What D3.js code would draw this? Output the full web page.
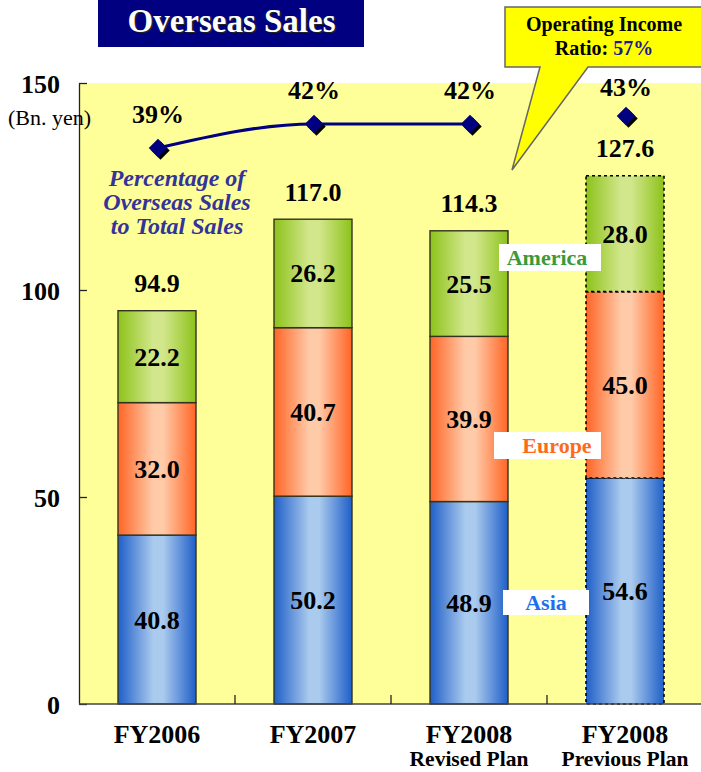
<!DOCTYPE html>
<html>
<head>
<meta charset="utf-8">
<script src="https://cdn.jsdelivr.net/npm/d3@7/dist/d3.min.js"></script>
<style>
  html, body { margin: 0; padding: 0; background: #ffffff; }
  svg { display: block; }
  text { font-family: "Liberation Serif", "Times New Roman", serif; }
</style>
</head>
<body>
<svg id="chart" width="701" height="772"></svg>
<script>
// ---- data ----
const categories = ["FY2006", "FY2007", "FY2008", "FY2008"];
const subLabels = ["", "", "Revised Plan", "Previous Plan"];
const regions = ["Asia", "Europe", "America"];
const asia = [40.8, 50.2, 48.9, 54.6];
const europe = [32.0, 40.7, 39.9, 45.0];
const america = [22.2, 26.2, 25.5, 28.0];
const totals = [94.9, 117.0, 114.3, 127.6];
const overseasPct = [39, 42, 42, 43];
const yTicks = [0, 50, 100, 150];
const planFlag = [false, false, false, true]; // previous plan drawn dashed
const operatingIncomeRatio = "57%";

// ---- layout ----
const svg = d3.select("#chart");
const margin = { left: 79, top: 83, right: 701, bottom: 704 };

const x = d3.scaleBand()
  .domain(d3.range(categories.length))
  .range([margin.left, margin.right + 2])
  .paddingInner(0.5)
  .paddingOuter(0.25);

const y = d3.scaleLinear().domain([0, 150]).range([margin.bottom, margin.top]);
// secondary scale for the overseas share line
const yPct = d3.scaleLinear().domain([30, 50]).range([220, 60]);

// ---- gradients ----
const defs = svg.append("defs");
const palettes = {
  Asia:    { edge: "#1f5fc8", mid: "#aacaee" },
  Europe:  { edge: "#ff6526", mid: "#ffcaa8" },
  America: { edge: "#8dc21a", mid: "#d2e78c" }
};
regions.forEach(r => {
  const g = defs.append("linearGradient").attr("id", "grad-" + r)
    .attr("x1", "0%").attr("x2", "100%").attr("y1", "0%").attr("y2", "0%");
  g.append("stop").attr("offset", "0%").attr("stop-color", palettes[r].edge);
  g.append("stop").attr("offset", "45%").attr("stop-color", palettes[r].mid);
  g.append("stop").attr("offset", "58%").attr("stop-color", palettes[r].mid);
  g.append("stop").attr("offset", "100%").attr("stop-color", palettes[r].edge);
});

// ---- plot background ----
svg.append("rect")
  .attr("x", margin.left).attr("y", margin.top)
  .attr("width", 701 - margin.left).attr("height", margin.bottom - margin.top)
  .attr("fill", "#ffff99");

// ---- stacked bars ----
const table = categories.map((c, i) => ({ idx: i, Asia: asia[i], Europe: europe[i], America: america[i] }));
const stack = d3.stack().keys(regions)(table);

const layers = svg.append("g").selectAll("g").data(stack).join("g");
layers.selectAll("rect")
  .data(d => d.map(p => ({ key: d.key, p })))
  .join("rect")
  .attr("x", d => x(d.p.data.idx))
  .attr("width", x.bandwidth())
  .attr("y", d => y(d.p[1]))
  .attr("height", d => y(d.p[0]) - y(d.p[1]))
  .attr("fill", d => `url(#grad-${d.key})`)
  .attr("stroke", d => planFlag[d.p.data.idx] ? "#000" : "#33331f")
  .attr("stroke-width", d => planFlag[d.p.data.idx] ? 1.6 : 1.4)
  .attr("stroke-dasharray", d => planFlag[d.p.data.idx] ? "3,3" : null);

// segment value labels
layers.selectAll("text")
  .data(d => d.map(p => ({ key: d.key, p })))
  .join("text")
  .attr("x", d => x(d.p.data.idx) + x.bandwidth() / 2)
  .attr("y", d => (y(d.p[0]) + y(d.p[1])) / 2 + 9)
  .attr("text-anchor", "middle")
  .attr("font-size", 26).attr("font-weight", "bold").attr("fill", "#000")
  .text(d => d.p.data[d.key].toFixed(1));

// totals
svg.append("g").selectAll("text").data(totals).join("text")
  .attr("x", (d, i) => x(i) + x.bandwidth() / 2)
  .attr("y", d => y(d) - 19)
  .attr("text-anchor", "middle")
  .attr("font-size", 26).attr("font-weight", "bold").attr("fill", "#000")
  .text(d => d.toFixed(1));

// ---- axes ----
const yAxis = d3.axisLeft(y).tickValues(yTicks).tickSizeInner(-8).tickSizeOuter(0).tickPadding(19);
const gy = svg.append("g").attr("transform", `translate(${margin.left},0)`).call(yAxis);
gy.select(".domain").attr("stroke", "#222").attr("stroke-width", 1.3);
gy.selectAll(".tick line").attr("stroke", "#222").attr("stroke-width", 1.3);
gy.selectAll(".tick text")
  .attr("font-family", "Liberation Serif, Times New Roman, serif")
  .attr("font-size", 26).attr("font-weight", "bold").attr("fill", "#000")
  .attr("dy", "0.35em");

// category axis baseline with upward ticks at band boundaries
const gx = svg.append("g");
gx.append("line")
  .attr("x1", margin.left).attr("x2", 701)
  .attr("y1", y(0)).attr("y2", y(0))
  .attr("stroke", "#444").attr("stroke-width", 1.5);
const boundaries = d3.range(1, categories.length).map(i => x(i) - x.step() * x.paddingInner() / 2);
gx.selectAll("line.tk").data(boundaries).join("line").attr("class", "tk")
  .attr("x1", d => d).attr("x2", d => d)
  .attr("y1", y(0)).attr("y2", y(0) - 9)
  .attr("stroke", "#222").attr("stroke-width", 1.3);

gx.selectAll("text.cat").data(categories).join("text").attr("class", "cat")
  .attr("x", (d, i) => x(i) + x.bandwidth() / 2)
  .attr("y", 743)
  .attr("text-anchor", "middle")
  .attr("font-size", 26).attr("font-weight", "bold").attr("fill", "#000")
  .text(d => d);
gx.selectAll("text.sub").data(subLabels).join("text").attr("class", "sub")
  .attr("x", (d, i) => x(i) + x.bandwidth() / 2)
  .attr("y", 766)
  .attr("text-anchor", "middle")
  .attr("font-size", 21.5).attr("font-weight", "bold").attr("fill", "#000")
  .text(d => d);

// unit label
svg.append("text")
  .attr("x", 8).attr("y", 125)
  .attr("font-size", 22).attr("fill", "#000")
  .text("(Bn. yen)");

// ---- overseas share line ----
const pts = overseasPct.map((p, i) => [x(i) + x.bandwidth() / 2 + 1, yPct(p)]);
svg.append("path")
  .datum(pts.slice(0, 3))
  .attr("d", d3.line().curve(d3.curveMonotoneX))
  .attr("fill", "none")
  .attr("stroke", "#000080")
  .attr("stroke-width", 3);

const diamond = d3.symbol().type(d3.symbolSquare).size(170);
const dg = svg.append("g").selectAll("g").data(pts).join("g")
  .attr("transform", d => `translate(${d[0]},${d[1]})`);
dg.append("path").attr("d", diamond())
  .attr("transform", "translate(2.5,2.5) rotate(45)").attr("fill", "#000");
dg.append("path").attr("d", diamond())
  .attr("transform", "rotate(45)").attr("fill", "#000080");

svg.append("g").selectAll("text").data(overseasPct).join("text")
  .attr("x", (d, i) => pts[i][0])
  .attr("y", (d, i) => pts[i][1] - (i === 3 ? 20 : 25))
  .attr("text-anchor", "middle")
  .attr("font-size", 26).attr("font-weight", "bold").attr("fill", "#000")
  .text(d => d + "%");

// series caption
const caption = svg.append("text")
  .attr("text-anchor", "middle")
  .attr("font-size", 24).attr("font-weight", "bold").attr("font-style", "italic")
  .attr("fill", "#333399");
["Percentage of", "Overseas Sales", "to Total Sales"].forEach((t, i) => {
  caption.append("tspan").attr("x", 177).attr("y", 186 + i * 24).text(t);
});

// ---- region legend tags ----
const legendColors = { America: "#3a9a3a", Europe: "#ff6a1a", Asia: "#1e6ff0" };
const legendBoxes = [
  { key: "America", x: 499, y: 244, w: 102, h: 27, tx: 547 },
  { key: "Europe",  x: 494, y: 432, w: 107, h: 27, tx: 557 },
  { key: "Asia",    x: 503, y: 590, w: 86,  h: 25, tx: 546 }
];
const lg = svg.append("g").selectAll("g").data(legendBoxes).join("g");
lg.append("rect")
  .attr("x", d => d.x).attr("y", d => d.y)
  .attr("width", d => d.w).attr("height", d => d.h)
  .attr("fill", "#ffffff");
lg.append("text")
  .attr("x", d => d.tx).attr("y", d => d.y + d.h / 2 + 7)
  .attr("text-anchor", "middle")
  .attr("font-size", 22).attr("font-weight", "bold")
  .attr("fill", d => legendColors[d.key])
  .text(d => d.key);

// ---- title ----
svg.append("rect").attr("x", 98).attr("y", 0).attr("width", 266).attr("height", 47).attr("fill", "#000080");
svg.append("text").attr("x", 233).attr("y", 33).attr("text-anchor", "middle")
  .attr("font-size", 33).attr("font-weight", "bold").attr("fill", "#222")
  .text("Overseas Sales");
svg.append("text").attr("x", 231.5).attr("y", 31.5).attr("text-anchor", "middle")
  .attr("font-size", 33).attr("font-weight", "bold").attr("fill", "#ffffff")
  .text("Overseas Sales");

// ---- callout ----
const callout = svg.append("g");
callout.append("path")
  .attr("d", "M505,7 L705,7 L705,67 L588,67 L512,170 L540,67 L505,67 Z")
  .attr("fill", "#ffff00")
  .attr("stroke", "#666")
  .attr("stroke-width", 1.5)
  .attr("stroke-linejoin", "miter");
callout.append("text").attr("x", 604).attr("y", 31).attr("text-anchor", "middle")
  .attr("font-size", 20).attr("font-weight", "bold").attr("fill", "#000")
  .text("Operating Income");
const l2 = callout.append("text").attr("x", 604).attr("y", 55).attr("text-anchor", "middle")
  .attr("font-size", 20).attr("font-weight", "bold").attr("fill", "#000");
l2.append("tspan").text("Ratio: ");
l2.append("tspan").attr("fill", "#1a1a8c").text(operatingIncomeRatio);
</script>
</body>
</html>
